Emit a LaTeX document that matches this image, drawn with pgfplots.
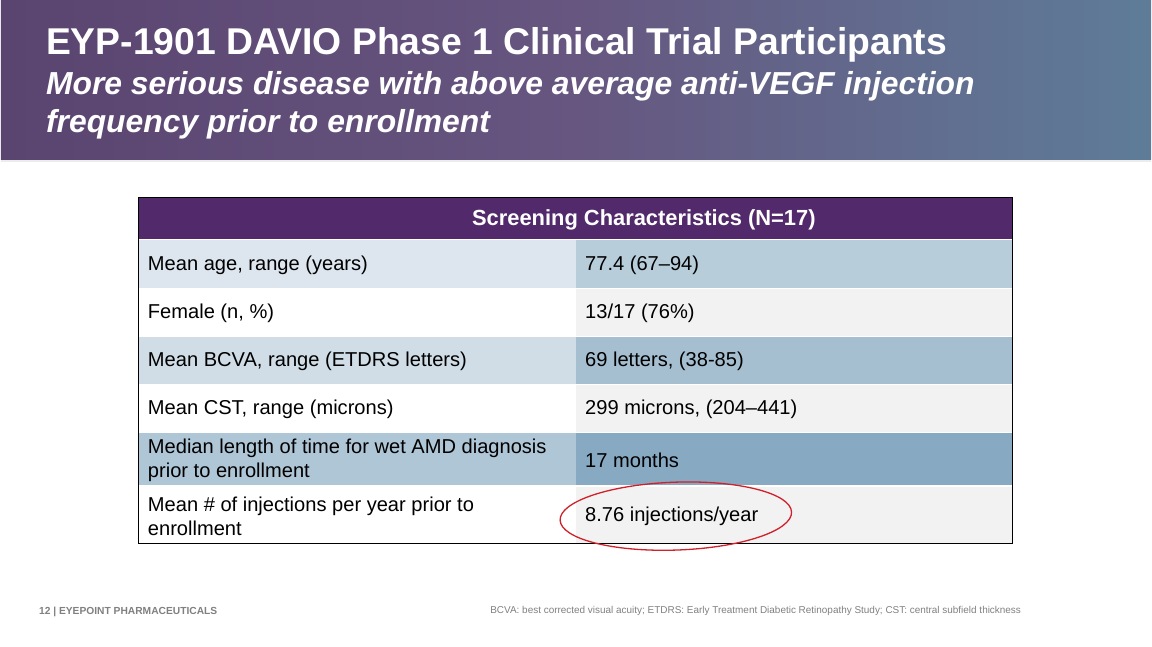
\documentclass[border=0pt]{standalone}
\usepackage{pgfplots}
\pgfplotsset{compat=1.18}
\usetikzlibrary{shapes.geometric}
\usepackage{fontspec}
\setmainfont{Liberation Sans}
\definecolor{hdrL}{HTML}{5A4470}
\definecolor{hdrM}{HTML}{665680}
\definecolor{hdrR}{HTML}{5E7C98}
\definecolor{thead}{HTML}{52296B}
\definecolor{r1l}{HTML}{DDE5EE}
\definecolor{r1r}{HTML}{B8CDDA}
\definecolor{r3l}{HTML}{D0DDE7}
\definecolor{r3r}{HTML}{A5BFD0}
\definecolor{r5l}{HTML}{AFC6D6}
\definecolor{r5r}{HTML}{87A9C1}
\definecolor{grayc}{HTML}{F2F2F2}
\definecolor{ftgray}{HTML}{808080}
\definecolor{circ}{HTML}{D0202A}
\begin{document}
\begin{tikzpicture}
\begin{axis}[
  width=1152bp, height=648bp, scale only axis,
  xmin=0, xmax=1152, ymin=0, ymax=648, y dir=reverse,
  hide axis, clip=false,
]
% background
\addplot[fill=white, draw=none] coordinates {(0,0) (1152,0) (1152,648) (0,648)} --cycle;
% header band
\fill[left color=hdrL, right color=hdrR, middle color=hdrM] (axis cs:0,0) rectangle (axis cs:1152,160);
\draw[line width=2bp, white!85!gray] (axis cs:0,161) -- (axis cs:1152,161);
\node[inner sep=0pt, anchor=base west, text=white, font=\bfseries\fontsize{37.5}{42}\selectfont] at (axis cs:45,55) {EYP-1901 DAVIO Phase 1 Clinical Trial Participants};
\node[inner sep=0pt, anchor=base west, text=white, font=\bfseries\itshape\fontsize{32}{38}\selectfont] at (axis cs:45,95) {More serious disease with above average anti-VEGF injection};
\node[inner sep=0pt, anchor=base west, text=white, font=\bfseries\itshape\fontsize{32}{38}\selectfont] at (axis cs:45,133) {frequency prior to enrollment};
% table cells
\addplot[fill=thead, draw=none] coordinates {(138,198) (1013,198) (1013,240) (138,240)} --cycle;
\addplot[fill=r1l, draw=none] coordinates {(138,240) (576,240) (576,289) (138,289)} --cycle;
\addplot[fill=r1r, draw=none] coordinates {(576,240) (1013,240) (1013,289) (576,289)} --cycle;
\addplot[fill=white, draw=none] coordinates {(138,289) (576,289) (576,337) (138,337)} --cycle;
\addplot[fill=grayc, draw=none] coordinates {(576,289) (1013,289) (1013,337) (576,337)} --cycle;
\addplot[fill=r3l, draw=none] coordinates {(138,337) (576,337) (576,385) (138,385)} --cycle;
\addplot[fill=r3r, draw=none] coordinates {(576,337) (1013,337) (1013,385) (576,385)} --cycle;
\addplot[fill=white, draw=none] coordinates {(138,385) (576,385) (576,433) (138,433)} --cycle;
\addplot[fill=grayc, draw=none] coordinates {(576,385) (1013,385) (1013,433) (576,433)} --cycle;
\addplot[fill=r5l, draw=none] coordinates {(138,433) (576,433) (576,487) (138,487)} --cycle;
\addplot[fill=r5r, draw=none] coordinates {(576,433) (1013,433) (1013,487) (576,487)} --cycle;
\addplot[fill=white, draw=none] coordinates {(138,487) (576,487) (576,544) (138,544)} --cycle;
\addplot[fill=grayc, draw=none] coordinates {(576,487) (1013,487) (1013,544) (576,544)} --cycle;
% separators
\foreach \yy in {240,289,337,385,433,487} {
  \edef\tmp{\noexpand\draw[white, line width=1.5bp] (axis cs:138,\yy) -- (axis cs:1013,\yy);}\tmp
}
\draw[black, line width=0.8bp] (axis cs:138,198) rectangle (axis cs:1013,544);
% header text
\node[inner sep=0pt, text=white, font=\bfseries\fontsize{22}{26}\selectfont] at (axis cs:644,220) {Screening Characteristics (N=17)};
% cell text
\tikzset{cell/.style={inner sep=0pt, anchor=west, align=left, font=\fontsize{20.2}{24.5}\selectfont}}
\node[cell] at (axis cs:147,266) {Mean age, range (years)};
\node[cell] at (axis cs:585,266) {77.4 (67–94)};
\node[cell] at (axis cs:147,314) {Female (n, \%)};
\node[cell] at (axis cs:585,314) {13/17 (76\%)};
\node[cell] at (axis cs:147,362) {Mean BCVA, range (ETDRS letters)};
\node[cell] at (axis cs:585,362) {69 letters, (38-85)};
\node[cell] at (axis cs:147,410) {Mean CST, range (microns)};
\node[cell] at (axis cs:585,410) {299 microns, (204–441)};
\node[cell] at (axis cs:147,461) {Median length of time for wet AMD diagnosis\\prior to enrollment};
\node[cell] at (axis cs:585,461) {17 months};
\node[cell] at (axis cs:147,517) {Mean \# of injections per year prior to\\enrollment};
\node[cell] at (axis cs:585,517) {8.76 injections/year};
% highlight
\node[draw=circ, line width=1.3bp, ellipse, inner sep=0pt, minimum width=232bp, minimum height=68bp, rotate=2] at (axis cs:676,517) {};
% footer
\node[inner sep=0pt, anchor=base west, text=ftgray, font=\bfseries\fontsize{10.3}{12}\selectfont] at (axis cs:38,616) {12 | EYEPOINT PHARMACEUTICALS};
\node[inner sep=0pt, anchor=base west, text=ftgray, font=\fontsize{10}{12}\selectfont] at (axis cs:490,615) {BCVA: best corrected visual acuity; ETDRS: Early Treatment Diabetic Retinopathy Study; CST: central subfield thickness};
\end{axis}
\end{tikzpicture}
\end{document}
